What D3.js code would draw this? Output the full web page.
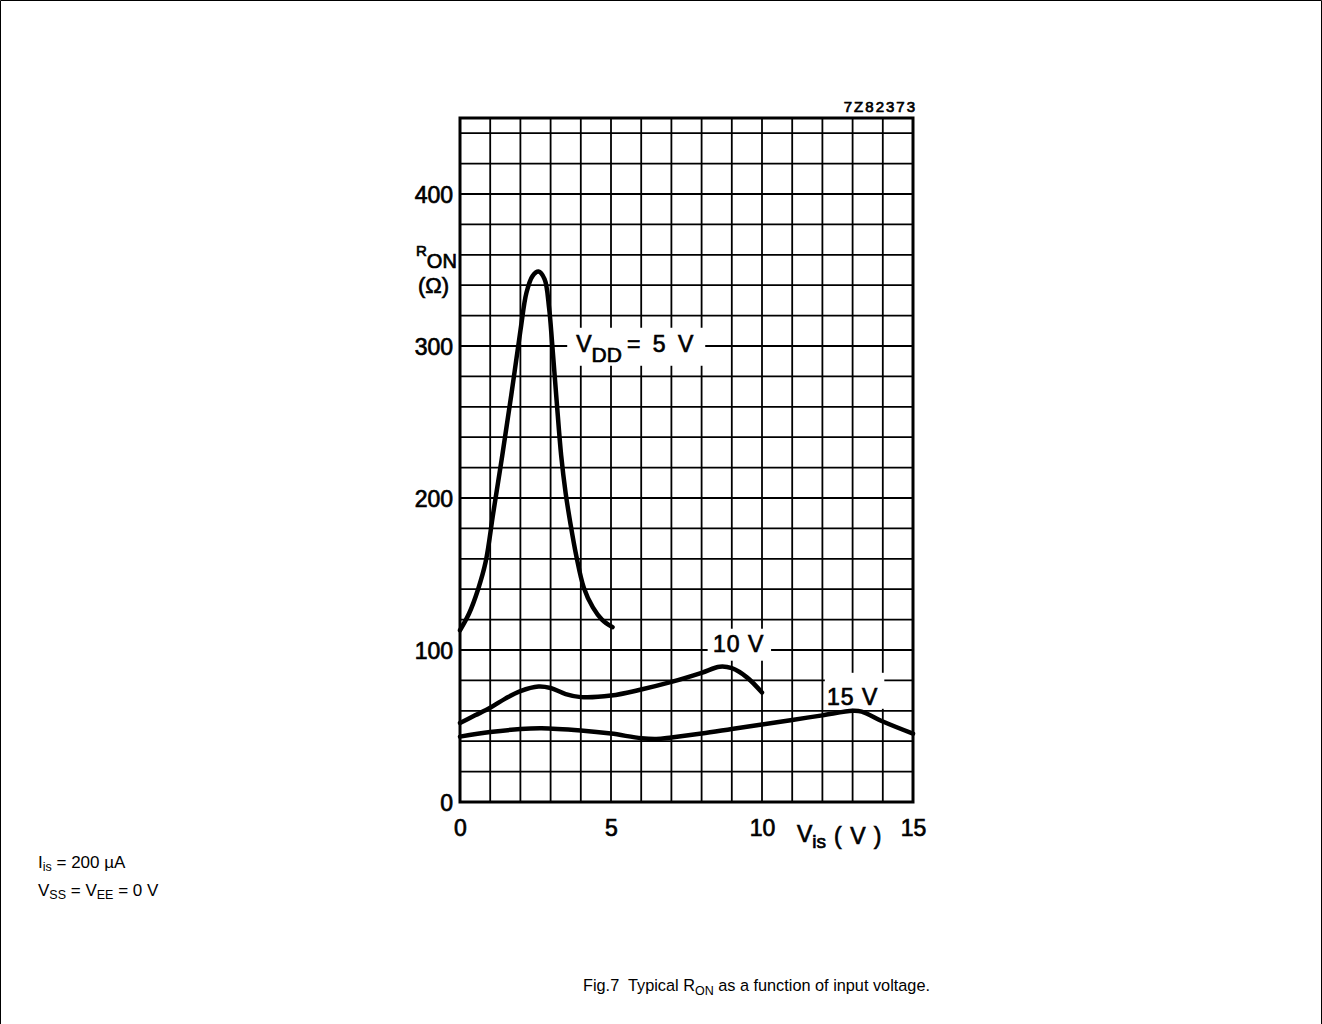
<!DOCTYPE html>
<html lang="en">
<head>
    <meta charset="UTF-8">
    <title>Typical RON as a function of input voltage</title>
    <script src="https://cdn.jsdelivr.net/npm/d3@7"></script>
    <style>
        body {
            margin: 0;
            background: #fff;
        }

        svg {
            display: block;
        }

        .grid line {
            stroke: #000;
            stroke-width: 1.8px;
        }

        .curve {
            fill: none;
            stroke: #000;
            stroke-width: 4.5px;
            stroke-linecap: round;
            stroke-linejoin: round;
        }

        .chart-text {
            font-family: "Liberation Sans", Arial, sans-serif;
            fill: #000;
            stroke: #000;
            stroke-width: 0.7px;
        }

        .note {
            font-family: "Liberation Sans", Arial, sans-serif;
            fill: #000;
            white-space: pre;
        }
    </style>
</head>
<body>
<script>
    // values: [Vis (V), RON (ohm)]
    const curve5V = [
        [0, 113], [0.3, 124], [0.6, 140], [0.85, 158], [1.1, 190], [1.4, 228],
        [1.7, 268], [2.0, 310], [2.2, 335], [2.4, 346], [2.6, 349], [2.8, 344],
        [2.95, 325], [3.05, 302], [3.2, 264], [3.35, 228], [3.5, 203], [3.65, 184],
        [3.85, 162], [4.1, 141], [4.4, 128], [4.7, 120], [5.05, 115]
    ];
    const curve10V = [
        [0, 52], [0.5, 57], [1, 62], [1.5, 68], [2, 73], [2.6, 76], [3, 75],
        [3.5, 71], [4, 69], [5, 70], [6, 74], [7, 79], [8, 85], [8.6, 89],
        [9, 88], [9.5, 82], [10, 72]
    ];
    const curve15V = [
        [0, 43], [1, 46], [2, 48], [2.7, 48.5], [4, 47], [5, 45], [6, 42],
        [6.5, 41.5], [7, 42.5], [8, 45], [9, 48], [10, 51], [11, 54], [12, 57],
        [13, 60], [13.3, 59.5], [14, 53], [15, 45]
    ];
    const yTicks = [0, 100, 200, 300, 400];
    const xTicks = [0, 5, 10, 15];

    const width = 1322;
    const height = 1024;

    const svg = d3.select("body").append("svg")
        .attr("width", width)
        .attr("height", height);

    // page frame
    svg.append("path")
        .attr("d", "M0.5,1024V0.5H1321.5V1024")
        .attr("fill", "none")
        .attr("stroke", "#000")
        .attr("stroke-width", 1);

    const x = d3.scaleLinear().domain([0, 15]).range([460, 913]);
    const y = d3.scaleLinear().domain([0, 450]).range([802, 118]);

    // grid
    const grid = svg.append("g").attr("class", "grid");
    grid.selectAll("line.v")
        .data(d3.range(1, 15))
        .enter().append("line")
        .attr("class", "v")
        .attr("x1", d => x(d)).attr("x2", d => x(d))
        .attr("y1", y(450)).attr("y2", y(0));
    grid.selectAll("line.h")
        .data(d3.range(20, 450, 20))
        .enter().append("line")
        .attr("class", "h")
        .attr("x1", x(0)).attr("x2", x(15))
        .attr("y1", d => y(d)).attr("y2", d => y(d));

    svg.append("rect")
        .attr("x", x(0)).attr("y", y(450))
        .attr("width", x(15) - x(0)).attr("height", y(0) - y(450))
        .attr("fill", "none")
        .attr("stroke", "#000")
        .attr("stroke-width", 3);

    // white patches behind the curve labels
    const boxes = [
        [x(3.55), y(312), x(8.12) - x(3.55), 38],
        [x(8.2), y(114), x(10.3) - x(8.2), 32],
        [x(12.08), y(85), x(14.05) - x(12.08), 36]
    ];
    svg.selectAll("rect.knock")
        .data(boxes)
        .enter().append("rect")
        .attr("class", "knock")
        .attr("x", d => d[0]).attr("y", d => d[1])
        .attr("width", d => d[2]).attr("height", d => d[3])
        .attr("fill", "#fff");

    // curves
    const line = d3.line()
        .x(d => x(d[0]))
        .y(d => y(d[1]))
        .curve(d3.curveCatmullRom.alpha(0.5));

    svg.selectAll("path.curve")
        .data([curve5V, curve10V, curve15V])
        .enter().append("path")
        .attr("class", "curve")
        .attr("d", line);

    // axes (labels only)
    const yAxis = svg.append("g")
        .attr("transform", `translate(${x(0) - 7},0)`)
        .call(d3.axisLeft(y).tickValues(yTicks).tickSize(0).tickPadding(0));
    yAxis.select(".domain").remove();
    yAxis.selectAll("text")
        .attr("class", "chart-text")
        .attr("font-size", 23)
        .attr("dy", "0.36em");

    const xAxis = svg.append("g")
        .attr("transform", `translate(0,${y(0) + 18})`)
        .call(d3.axisBottom(x).tickValues(xTicks).tickSize(0).tickPadding(0));
    xAxis.select(".domain").remove();
    xAxis.selectAll("text")
        .attr("class", "chart-text")
        .attr("font-size", 23)
        .attr("dy", "0.71em");

    // axis titles
    const ron = svg.append("text").attr("class", "chart-text")
        .attr("x", 416).attr("y", 268);
    ron.append("tspan").attr("font-size", 15).attr("dy", -12).text("R");
    ron.append("tspan").attr("font-size", 20).attr("dy", 12).text("ON");
    svg.append("text").attr("class", "chart-text")
        .attr("x", 418).attr("y", 293)
        .attr("font-size", 22)
        .text("(Ω)");

    const vis = svg.append("text").attr("class", "chart-text")
        .attr("x", 797).attr("y", 842)
        .attr("font-size", 23);
    vis.append("tspan").text("V");
    vis.append("tspan").attr("font-size", 19).attr("dy", 6).text("is");
    vis.append("tspan").attr("dy", -4).attr("dx", 8).attr("letter-spacing", 1).text("( V )");

    // curve labels
    const l5 = svg.append("text").attr("class", "chart-text")
        .attr("x", x(3.85)).attr("y", y(300) + 6)
        .attr("font-size", 23);
    l5.append("tspan").text("V");
    l5.append("tspan").attr("font-size", 21).attr("dy", 10).text("DD");
    l5.append("tspan").attr("dy", -10).attr("dx", 5).attr("letter-spacing", 3).text("= 5 V");

    svg.append("text").attr("class", "chart-text")
        .attr("x", x(8.38)).attr("y", y(100) + 2)
        .attr("font-size", 23)
        .attr("letter-spacing", 1)
        .text("10 V");

    svg.append("text").attr("class", "chart-text")
        .attr("x", x(12.15)).attr("y", y(64))
        .attr("font-size", 23)
        .attr("letter-spacing", 1)
        .text("15 V");

    svg.append("text").attr("class", "chart-text")
        .attr("x", 917).attr("y", 112)
        .attr("text-anchor", "end")
        .attr("font-size", 15)
        .attr("letter-spacing", 2)
        .text("7Z82373");

    // conditions and caption
    const n1 = svg.append("text").attr("class", "note")
        .attr("x", 38).attr("y", 868).attr("font-size", 17);
    n1.append("tspan").text("I");
    n1.append("tspan").attr("font-size", 12.5).attr("dy", 3).text("is");
    n1.append("tspan").attr("dy", -3).text(" = 200 µA");

    const n2 = svg.append("text").attr("class", "note")
        .attr("x", 38).attr("y", 896).attr("font-size", 17);
    n2.append("tspan").text("V");
    n2.append("tspan").attr("font-size", 12.5).attr("dy", 3).text("SS");
    n2.append("tspan").attr("dy", -3).text(" = V");
    n2.append("tspan").attr("font-size", 12.5).attr("dy", 3).text("EE");
    n2.append("tspan").attr("dy", -3).text(" = 0 V");

    const cap = svg.append("text").attr("class", "note")
        .attr("x", 583).attr("y", 991).attr("font-size", 16.3);
    cap.append("tspan").text("Fig.7  Typical R");
    cap.append("tspan").attr("font-size", 12.5).attr("dy", 4).text("ON");
    cap.append("tspan").attr("dy", -4).text(" as a function of input voltage.");
</script>
</body>
</html>
